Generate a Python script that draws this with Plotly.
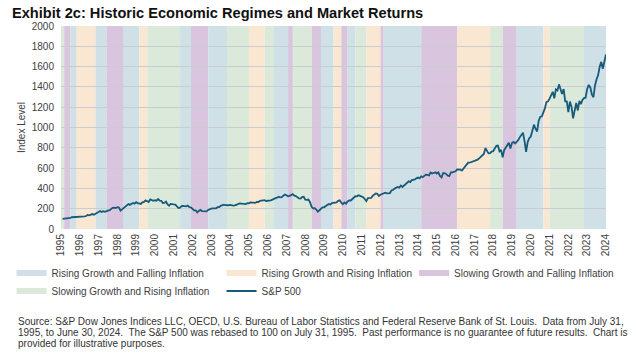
import pandas as pd
import plotly.graph_objects as go

# ---------------- data ----------------
sp500 = [
    100, 101, 105, 104, 108, 110,                                   # 1995 (Jul-Dec)
    116, 117, 118, 119, 122, 122, 117, 119, 125, 128, 138, 135,     # 1996
    146, 147, 141, 149, 158, 165, 177, 167, 176, 170, 178, 180,     # 1997
    185, 198, 209, 210, 206, 215, 212, 181, 192, 208, 220, 233,     # 1998
    246, 238, 247, 257, 250, 264, 255, 254, 247, 262, 267, 282,     # 1999
    272, 266, 292, 283, 277, 283, 279, 296, 280, 278, 256, 257,     # 2000
    270, 245, 229, 247, 248, 242, 240, 224, 206, 210, 225, 227,     # 2001
    227, 223, 231, 216, 214, 199, 183, 184, 164, 178, 188, 177,     # 2002
    175, 172, 174, 188, 197, 200, 203, 206, 204, 215, 216, 228,     # 2003
    236, 239, 235, 231, 234, 238, 230, 230, 233, 236, 245, 253,     # 2004
    251, 256, 251, 246, 254, 253, 263, 260, 262, 257, 266, 266,     # 2005
    278, 278, 281, 284, 276, 276, 277, 283, 290, 299, 304, 308,     # 2006
    318, 311, 314, 328, 339, 332, 322, 326, 338, 343, 328, 325,     # 2007
    312, 301, 299, 314, 317, 290, 287, 290, 264, 219, 203, 204,     # 2008
    192, 171, 185, 203, 214, 214, 229, 237, 246, 241, 255, 259,     # 2009
    256, 263, 278, 283, 259, 245, 262, 250, 272, 282, 281, 299,     # 2010
    313, 323, 322, 332, 327, 321, 314, 296, 275, 305, 303, 306,     # 2011
    326, 339, 350, 347, 325, 338, 343, 349, 358, 351, 352, 354,     # 2012
    380, 384, 398, 405, 414, 407, 428, 414, 427, 446, 458, 469,     # 2013
    462, 482, 485, 488, 499, 508, 500, 519, 511, 523, 536, 534,     # 2014
    528, 557, 547, 552, 558, 546, 557, 522, 508, 550, 551, 541,     # 2015
    525, 522, 557, 558, 567, 568, 588, 587, 586, 575, 595, 605,     # 2016
    630, 653, 653, 659, 666, 669, 682, 683, 696, 711, 732, 739,     # 2017
    797, 766, 745, 747, 763, 767, 795, 819, 822, 765, 779, 707,     # 2018
    779, 802, 817, 849, 793, 848, 859, 843, 858, 876, 905, 931,     # 2019
    948, 868, 760, 856, 894, 911, 961, 1028, 988, 961, 1064, 1104,  # 2020
    1110, 1139, 1188, 1250, 1257, 1285, 1314, 1352, 1288, 1376, 1365, 1425,  # 2021
    1374, 1331, 1378, 1257, 1257, 1151, 1256, 1203, 1091, 1178, 1241, 1168,  # 2022
    1262, 1229, 1272, 1290, 1294, 1377, 1420, 1395, 1327, 1298, 1414, 1476,  # 2023
    1519, 1598, 1647, 1579, 1655, 1720,                             # 2024 (Jan-Jun)
]
dates = pd.date_range("1995-07-31", periods=len(sp500), freq="ME")

# regime periods: start month and regime code
regime_starts = [
    "1995-07-01", "1995-09-01", "1996-01-01", "1996-05-01", "1997-05-01", "1997-12-01",
    "1998-11-01", "1999-09-01", "2000-02-01", "2001-11-01", "2002-06-01", "2003-05-01",
    "2004-05-01", "2005-07-01", "2006-05-01", "2006-11-01", "2007-08-01", "2007-11-01",
    "2008-11-01", "2009-05-01", "2010-01-01", "2010-06-01", "2010-10-01", "2011-03-01",
    "2011-10-01", "2012-07-01", "2012-09-01", "2014-09-01", "2016-08-01", "2018-05-01",
    "2019-01-01", "2019-10-01", "2021-03-01", "2021-07-01", "2023-05-01",
]
regime_codes = [
    "G", "P", "B", "O", "B", "P",
    "B", "O", "G", "B", "P", "B",
    "G", "O", "G", "B", "P", "G",
    "P", "B", "O", "P", "B", "G",
    "O", "P", "B", "P", "O", "G",
    "P", "B", "O", "G", "B",
]
regime_end = "2024-07-01"

regime_order = ["B", "O", "P", "G"]
regime_names = {
    "B": "Rising Growth and Falling Inflation",
    "O": "Rising Growth and Rising Inflation",
    "P": "Slowing Growth and Falling Inflation",
    "G": "Slowing Growth and Rising Inflation",
}
regime_colors = {
    "B": "#CFE0E7",
    "O": "#F9E7D2",
    "P": "#D9C5DD",
    "G": "#DBE9DB",
}
# which legend box each entry goes to (row 1: legend + legend3, row 2: legend2)
regime_legend = {"B": "legend", "O": "legend", "P": "legend3", "G": "legend2"}

year_labels = [str(y) for y in range(1995, 2025)]
tick_dates = [f"{y}-07-01" for y in range(1995, 2025)]

source_lines = [
    "Source: S&P Dow Jones Indices LLC, OECD, U.S. Bureau of Labor Statistics and Federal Reserve Bank of St. Louis.\u00a0 Data from July 31,",
    "1995, to June 30, 2024.\u00a0 The S&P 500 was rebased to 100 on July 31, 1995.\u00a0 Past performance is no guarantee of future results.\u00a0 Chart is",
    "provided for illustrative purposes.",
]

FONT = "Arial, 'Liberation Sans', sans-serif"
LINE_COLOR = "#175A7A"

# ---------------- figure ----------------
fig = go.Figure()

shapes = []
ends = regime_starts[1:] + [regime_end]
for s, e, c in zip(regime_starts, ends, regime_codes):
    shapes.append(dict(type="rect", xref="x", yref="paper", x0=s, x1=e, y0=0, y1=1,
                       fillcolor=regime_colors[c], line=dict(width=0), layer="below"))

for code in regime_order:
    fig.add_trace(go.Scatter(
        x=[None], y=[None], mode="lines", name=regime_names[code],
        line=dict(color=regime_colors[code], width=6),
        legend=regime_legend[code],
    ))

fig.add_trace(go.Scatter(
    x=dates, y=sp500, mode="lines", name="S&P 500",
    line=dict(color=LINE_COLOR, width=1.8), legend="legend2",
))

W, H = 636, 354
ml, mr, mt, mb = 60, 25, 26, 125
pw, ph = W - ml - mr, H - mt - mb

def px_x(x):
    return (x - ml) / pw

def px_y(y):
    return (H - mb - y) / ph

annotations = []
for txt, yy in zip(source_lines, [321, 332, 343]):
    annotations.append(dict(
        text=txt, xref="paper", yref="paper", x=px_x(14), y=px_y(yy),
        xanchor="left", yanchor="middle", showarrow=False,
        font=dict(family=FONT, size=10, color="#333333"), align="left",
    ))

legend_common = dict(
    orientation="h", xanchor="left", yanchor="middle",
    entrywidth=165, entrywidthmode="pixels",
    font=dict(family=FONT, size=10, color="#404040"),
    bgcolor="rgba(0,0,0,0)", itemclick=False, itemdoubleclick=False,
)

fig.update_layout(
    width=W, height=H,
    margin=dict(l=ml, r=mr, t=mt, b=mb),
    paper_bgcolor="white", plot_bgcolor="white",
    font=dict(family=FONT, size=10, color="#404040"),
    title=dict(
        text="<b>Exhibit 2c: Historic Economic Regimes and Market Returns</b>",
        x=12 / W, xanchor="left", xref="container",
        y=1 - 12.5 / H, yanchor="middle", yref="container",
        font=dict(family=FONT, size=14.6, color="#111111"),
    ),
    shapes=shapes,
    annotations=annotations,
    showlegend=True,
    legend=dict(x=px_x(10), y=px_y(273), **legend_common),
    legend3=dict(x=px_x(417), y=px_y(273), **legend_common),
    legend2=dict(x=px_x(10), y=px_y(291), **legend_common),
    xaxis=dict(
        type="date", range=["1995-07-01", regime_end],
        tickmode="array", tickvals=tick_dates, ticktext=year_labels,
        tickangle=-90, tickfont=dict(family=FONT, size=10, color="#404040"),
        showgrid=False, zeroline=False, showline=False, ticks="",
        ticklabelstandoff=2,
    ),
    yaxis=dict(
        range=[0, 2000], dtick=200, tick0=0,
        showgrid=True, gridcolor="#C9CDCF", gridwidth=1,
        zeroline=False, showline=False, ticks="",
        tickfont=dict(family=FONT, size=10, color="#404040"),
        ticklabelstandoff=6,
        title=dict(text="Index Level", standoff=4,
                   font=dict(family=FONT, size=10, color="#404040")),
    ),
)

fig.write_html("out.html")
